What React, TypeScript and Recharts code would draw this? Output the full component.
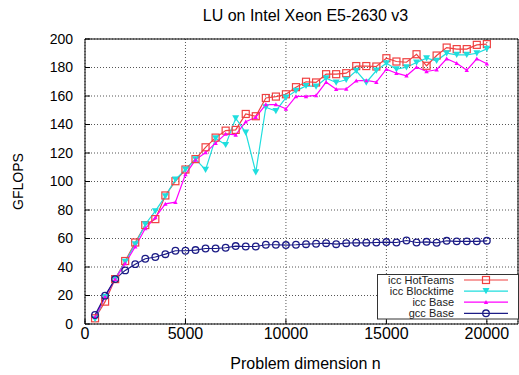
import React from 'react';
import { LineChart, Line, XAxis, YAxis, CartesianGrid, Legend, Label } from 'recharts';

const FONT = '"Liberation Sans", Arial, Helvetica, sans-serif';

// problem dimension n
const dims = [
  500, 1000, 1500, 2000, 2500, 3000, 3500, 4000, 4500, 5000,
  5500, 6000, 6500, 7000, 7500, 8000, 8500, 9000, 9500, 10000,
  10500, 11000, 11500, 12000, 12500, 13000, 13500, 14000, 14500, 15000,
  15500, 16000, 16500, 17000, 17500, 18000, 18500, 19000, 19500, 20000,
];

// GFLOPS per series
const iccHotTeams = [
  4, 15.7, 31.5, 44.2, 57.2, 69.4, 73.6, 90.2, 100.2, 108.4,
  115.7, 124, 130.8, 135.7, 136.2, 147.4, 145.8, 158.6, 159.6, 161.2,
  166.2, 170, 169.5, 175.3, 175.3, 176, 181, 181, 180.7, 186.5,
  184.2, 183.7, 189.3, 181.2, 188.4, 194, 192.9, 192.9, 195.9, 196.4,
];
const iccBlocktime = [
  3.5, 19, 31.5, 43.7, 56, 70, 79.2, 89.7, 101.4, 108.4,
  115.7, 108.2, 130.4, 125.7, 144.4, 134.3, 106.5, 152.1, 149.5, 158.9,
  163.6, 167.1, 166.7, 172.5, 169.5, 171.4, 177.7, 169.5, 177.9, 183,
  178.8, 180.2, 183.5, 186.5, 184.7, 190, 188.9, 188.9, 190, 193.1,
];
const iccBase = [
  5, 19, 31.5, 42.5, 54.2, 67, 74.8, 84.3, 85.5, 105,
  115.2, 120.3, 126.9, 133.4, 132.7, 142, 145.1, 154, 154, 151,
  159.7, 159.7, 160.4, 169.7, 164.8, 165, 170.7, 170.9, 169.7, 178.8,
  176, 174.2, 180.2, 177.2, 178.4, 186.1, 183, 178.1, 186.1, 182.6,
];
const gccBase = [
  6.3, 19.9, 31.5, 37.6, 42, 45.8, 47, 49, 51.4, 51.4,
  51.9, 53, 53, 53.5, 54.7, 54.4, 54.4, 55.6, 55.6, 55.4,
  55.6, 56, 56.3, 56.7, 56, 56.7, 57, 57, 57.2, 57.5,
  57.2, 58.6, 57.2, 57.7, 57, 58.4, 58, 58, 58, 58.4,
];

const xTicks = [0, 5000, 10000, 15000, 20000];
const yTicks = [0, 20, 40, 60, 80, 100, 120, 140, 160, 180, 200];

const RED = '#f04040';
const CYAN = '#1fdede';
const MAGENTA = '#ff00ff';
const NAVY = '#1c1c86';

const data = dims.map((n, i) => ({
  n,
  hot: iccHotTeams[i],
  block: iccBlocktime[i],
  base: iccBase[i],
  gcc: gccBase[i],
}));

const marker = (shape: string, x: number, y: number, key?: string) => {
  if (shape === 'square')
    return <rect key={key} x={x - 3.5} y={y - 3.5} width={7} height={7} fill="none" stroke={RED} strokeWidth={1.2} />;
  if (shape === 'tridown')
    return <polygon key={key} points={`${x - 3.5},${y - 3} ${x + 3.5},${y - 3} ${x},${y + 3.2}`} fill={CYAN} />;
  if (shape === 'triup')
    return <polygon key={key} points={`${x - 2.2},${y + 1.8} ${x + 2.2},${y + 1.8} ${x},${y - 2.2}`} fill={MAGENTA} />;
  return <circle key={key} cx={x} cy={y} r={3.3} fill="none" stroke={NAVY} strokeWidth={1.3} />;
};

const series = [
  { key: 'hot', name: 'icc HotTeams', color: RED, shape: 'square' },
  { key: 'block', name: 'icc Blocktime', color: CYAN, shape: 'tridown' },
  { key: 'base', name: 'icc Base', color: MAGENTA, shape: 'triup' },
  { key: 'gcc', name: 'gcc Base', color: NAVY, shape: 'circle' },
];

const LegendBox = () => (
  <svg width={142} height={46} style={{ display: 'block' }}>
    <rect x={0.5} y={0.5} width={141} height={44.5} fill="#fff" stroke="#333" />
    {series.map((s, i) => {
      const y = 6 + i * 11.1;
      return (
        <g key={s.key}>
          <text x={77} y={y} textAnchor="end" dominantBaseline="central" fontSize={11} fontFamily={FONT} fill="#222">
            {s.name}
          </text>
          <line x1={87} x2={131} y1={y} y2={y} stroke={s.color} strokeWidth={1.2} />
          {marker(s.shape, 109, y)}
        </g>
      );
    })}
  </svg>
);

const tickStyle = { fill: '#000', fontFamily: FONT };

export default function App() {
  return (
    <div style={{ position: 'absolute', left: 0, top: 0, fontFamily: FONT }}>
      <LineChart width={519} height={375} data={data} margin={{ top: 38, right: 0, bottom: 0, left: 0 }}>
        <CartesianGrid stroke="#555" strokeDasharray="1 2" />
        <XAxis
          dataKey="n"
          type="number"
          domain={[0, 21550]}
          ticks={xTicks}
          interval={0}
          height={51}
          tickSize={-5}
          tickMargin={9}
          tick={{ ...tickStyle, fontSize: 16 }}
          stroke="#000"
        >
          <Label value="Problem dimension n" position="insideBottom" offset={6} dx={4} fontSize={16} fill="#000" fontFamily={FONT} />
        </XAxis>
        <XAxis
          xAxisId="top"
          orientation="top"
          dataKey="n"
          type="number"
          domain={[0, 21550]}
          ticks={xTicks}
          interval={0}
          height={1}
          tickSize={-5}
          tick={false}
          stroke="#000"
        >
          <Label value="LU on Intel Xeon E5-2630 v3" position="top" offset={17} dx={4} fontSize={16} fill="#000" fontFamily={FONT} />
        </XAxis>
        <YAxis
          type="number"
          domain={[0, 200]}
          ticks={yTicks}
          interval={0}
          width={85}
          tickSize={-5}
          tickMargin={17}
          tick={{ ...tickStyle, fontSize: 14 }}
          stroke="#000"
        >
          <Label value="GFLOPS" angle={-90} position="center" dx={-24} fontSize={14} fill="#000" fontFamily={FONT} />
        </YAxis>
        <YAxis
          yAxisId="right"
          orientation="right"
          type="number"
          domain={[0, 200]}
          ticks={yTicks}
          interval={0}
          width={1}
          tickSize={-5}
          tick={false}
          stroke="#000"
        />
        {series.map((s) => (
          <Line
            key={s.key}
            dataKey={s.key}
            name={s.name}
            stroke={s.color}
            strokeWidth={1.2}
            isAnimationActive={false}
            dot={(p: any) => marker(s.shape, p.cx, p.cy, `${s.key}-${p.index}`)}
            activeDot={false}
          />
        ))}
        <Legend
          layout="horizontal"
          verticalAlign="middle"
          align="center"
          wrapperStyle={{ left: 377, top: 274, width: 142, height: 46 }}
          content={() => <LegendBox />}
        />
      </LineChart>
    </div>
  );
}
